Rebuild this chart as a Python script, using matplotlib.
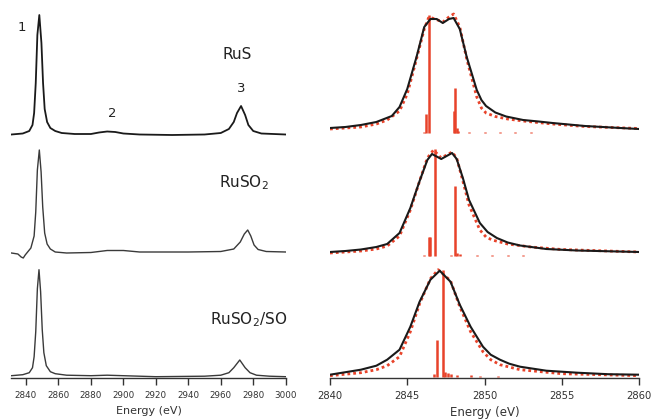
import numpy as np
import matplotlib
matplotlib.use('Agg')
import matplotlib.pyplot as plt

# ── Data (intensity in arbitrary units above each baseline) ──
labels = ['RuS', 'RuSO$_2$', 'RuSO$_2$/SO']

# Left panel: wide-range spectra
wide_E_rus = [2831, 2838, 2842, 2844, 2845, 2846, 2847, 2848.2, 2849.5, 2850.5, 2851.5, 2853,
              2855, 2858, 2862, 2870, 2880, 2885, 2890, 2895, 2900, 2910, 2930, 2950, 2960,
              2965, 2968, 2970, 2972.5, 2975, 2977, 2980, 2985, 3000]
wide_I_rus = [0.5, 1.5, 4, 10, 22, 52, 100, 120, 92, 52, 26, 13,
              7, 4, 2, 1, 1, 2.5, 3.5, 3, 1.5, 0.5, 0, 0.5, 2,
              6, 13, 22, 29, 20, 10, 4, 1.5, 0.5]

wide_E_ruso2 = [2831, 2835, 2837, 2838.3, 2839.5, 2841, 2843, 2845, 2846, 2847, 2848.2, 2849.3,
                2850.3, 2851.5, 2853, 2855, 2858, 2865, 2880, 2890, 2900, 2910, 2940, 2960,
                2968, 2972, 2974.5, 2976.6, 2978.5, 2980.5, 2983, 2988, 3000]
wide_I_ruso2 = [-1, -2, -5, -6, -3, 0, 4, 16, 40, 82, 102, 80,
                45, 19, 8, 3, 0, -1, -0.5, 1.5, 1.5, 0, 0, 0.5,
                3, 10, 18, 22, 16, 7, 2.5, 0.5, 0]

wide_E_mix = [2831, 2838, 2842, 2844, 2845, 2846, 2847, 2848, 2849, 2850, 2851, 2852.5,
              2855, 2858, 2865, 2880, 2890, 2900, 2920, 2950, 2960, 2965, 2968, 2971.7,
              2975, 2978, 2982, 2990, 3000]
wide_I_mix = [1, 2, 4, 9, 20, 45, 88, 107, 85, 47, 24, 11,
              5, 3, 1.5, 1, 1.5, 1, 0, 0.5, 1.5, 4, 9, 16.7,
              9, 4, 1.5, 0.5, 0]

# Right panel: experimental (black), calculated (red dotted), transitions (red sticks)
exp_E_rus = [2840, 2841, 2842, 2843, 2844, 2844.5, 2845, 2845.6, 2846.1, 2846.5, 2846.9, 2847.3,
             2847.7, 2848, 2848.4, 2848.85, 2849.5, 2849.8, 2850.1, 2850.7, 2851.4, 2852.5,
             2853.5, 2854.4, 2856.5, 2858.8, 2860]
exp_I_rus = [1, 2, 4, 7, 13, 22, 40, 72, 102, 110, 110, 106,
             110, 111, 100, 72, 39, 29, 23, 16.5, 12.5, 9, 7.5, 6,
             3, 1, 0]
calc_E_rus = [2840, 2842, 2843, 2843.7, 2844.5, 2845, 2845.6, 2846.1, 2846.4, 2846.8, 2847.3,
              2847.7, 2848, 2848.4, 2848.85, 2849.5, 2849.8, 2850.1, 2850.7, 2851.5, 2852.5,
              2854.4, 2856.5, 2860]
calc_I_rus = [0, 2, 5, 9, 18, 35, 70, 100, 112, 110, 107,
              112, 115, 102, 70, 32, 21, 16, 12.5, 10, 8,
              5, 2.5, 0.5]
stick_E_rus = [2846.1, 2846.2, 2846.4, 2848.0, 2848.1, 2848.2, 2848.3, 2849.0, 2850.0, 2851.0,
               2852.0, 2853.0]
stick_I_rus = [1, 19, 118, 22, 45, 5, 2, 1.5, 1, 1.5, 1, 1]

exp_E_ruso2 = [2840, 2841, 2842, 2843, 2843.7, 2844.5, 2845.2, 2845.8, 2846.3, 2846.6, 2847.2,
               2847.9, 2848.2, 2848.6, 2849.0, 2849.7, 2850.2, 2850.8, 2851.5, 2852.3, 2854,
               2856, 2860]
exp_I_ruso2 = [1, 2, 3.5, 6, 9, 20, 45, 72, 93, 99, 94,
               100, 94, 75, 53, 30, 21, 15, 10.5, 7.5, 4,
               2.5, 1]
calc_E_ruso2 = [2840, 2842, 2843, 2843.7, 2844.5, 2845.2, 2845.8, 2846.3, 2846.7, 2847.2,
                2847.9, 2848.2, 2848.6, 2849.0, 2849.7, 2850.1, 2850.5, 2851.5, 2853, 2855, 2860]
calc_I_ruso2 = [0, 2, 4, 7, 17, 43, 72, 95, 103, 95,
                101, 95, 72, 48, 23, 16, 13, 9, 6, 3.5, 1]
stick_E_ruso2 = [2846.1, 2846.4, 2846.5, 2846.8, 2847.8, 2848.1, 2848.25, 2848.4, 2849.5, 2850.5,
                 2851.5, 2852.5]
stick_I_ruso2 = [1, 19, 19, 107, 1, 70, 3, 2, 1, 1, 1, 1]

exp_E_mix = [2840, 2841, 2842, 2843, 2843.7, 2844.5, 2845.2, 2845.8, 2846.5, 2847.1, 2847.8,
             2848.4, 2849.1, 2849.9, 2850.4, 2851, 2851.6, 2852.3, 2854, 2856, 2858, 2860]
exp_I_mix = [2, 4.5, 7, 11, 17, 27, 50, 75, 97, 106, 95,
             72, 50, 30, 22, 17, 13, 10, 6, 4, 2.5, 2]
calc_E_mix = [2840, 2842, 2843, 2843.7, 2844.5, 2845.2, 2845.8, 2846.5, 2847.0, 2847.8,
              2848.4, 2849.1, 2849.9, 2850.4, 2851, 2852.3, 2855, 2860]
calc_I_mix = [1, 4, 7, 11, 20, 45, 73, 98, 107, 96,
              70, 45, 25, 17, 12, 7, 3, 1]
stick_E_mix = [2846.7, 2846.9, 2847.3, 2847.45, 2847.65, 2847.85, 2848.2, 2849.1, 2849.7, 2850.9]
stick_I_mix = [3, 37, 107, 5, 4, 3, 2.5, 2, 1, 1]

wide_E = [wide_E_rus, wide_E_ruso2, wide_E_mix]
wide_I = [wide_I_rus, wide_I_ruso2, wide_I_mix]
exp_E = [exp_E_rus, exp_E_ruso2, exp_E_mix]
exp_I = [exp_I_rus, exp_I_ruso2, exp_I_mix]
calc_E = [calc_E_rus, calc_E_ruso2, calc_E_mix]
calc_I = [calc_I_rus, calc_I_ruso2, calc_I_mix]
stick_E = [stick_E_rus, stick_E_ruso2, stick_E_mix]
stick_I = [stick_I_rus, stick_I_ruso2, stick_I_mix]

# ── Layout / style ─────────────────────────────────────────
left_offsets = [243, 126, 1.3]
right_offsets = [249, 125, 1.3]
stick_offsets = [245, 122, 1.0]
wide_colors = ['#1a1a1a', '#3a3a3a', '#3a3a3a']
wide_lw = [1.3, 1.0, 1.0]
RED = '#e8432a'

fig = plt.figure(figsize=(6.53, 4.2), dpi=100)
axL = fig.add_axes([11.4 / 653, 0.1, 274.3 / 653, 373 / 420])
axR = fig.add_axes([330 / 653, 0.1, 309 / 653, 373 / 420])

for ax in (axL, axR):
    for s in ('left', 'top', 'right'):
        ax.spines[s].set_visible(False)
    ax.spines['bottom'].set_color('#333333')
    ax.spines['bottom'].set_linewidth(1.0)
    ax.set_yticks([])
    ax.set_ylim(0, 373)
    ax.tick_params(axis='x', direction='out', length=5, width=1.0,
                   color='#333333', labelcolor='#333333', pad=4.5)
    ax.patch.set_alpha(0)

# left: wide-range spectra
for i in range(3):
    axL.plot(wide_E[i], np.array(wide_I[i]) + left_offsets[i],
             color=wide_colors[i], lw=wide_lw[i])
axL.set_xlim(2831, 3000)
axL.set_xticks(np.arange(2840, 3001, 20))
axL.tick_params(axis='x', labelsize=6.3)
axL.set_xlabel('Energy (eV)', fontsize=8, color='#333333', labelpad=4.5)

axL.text(2837.5, 350.5, '1', fontsize=9.5, ha='center', va='center', color='#222222')
axL.text(2893, 265, '2', fontsize=9.5, ha='center', va='center', color='#222222')
axL.text(2972.5, 290, '3', fontsize=9.5, ha='center', va='center', color='#222222')
axL.text(2970, 324, labels[0], fontsize=11, ha='center', va='center', color='#222222')
axL.text(2974, 195, labels[1], fontsize=11, ha='center', va='center', color='#222222')
axL.text(2977, 58, labels[2], fontsize=11, ha='center', va='center', color='#222222')

# right: pre-edge region, experiment vs calculation
for i in range(3):
    axR.vlines(stick_E[i], stick_offsets[i], np.array(stick_I[i]) + stick_offsets[i],
               color=RED, lw=1.8, zorder=1)
    axR.plot(calc_E[i], np.array(calc_I[i]) + right_offsets[i], color=RED, lw=2.0,
             linestyle=(0, (1, 1.1)), zorder=2)
    axR.plot(exp_E[i], np.array(exp_I[i]) + right_offsets[i], color='#1a1a1a', lw=1.5, zorder=3)
axR.set_xlim(2840, 2860)
axR.set_xticks(np.arange(2840, 2861, 5))
axR.tick_params(axis='x', labelsize=7.2)
axR.set_xlabel('Energy (eV)', fontsize=8.5, color='#333333', labelpad=3.5)

plt.savefig('out.png', dpi=100)
